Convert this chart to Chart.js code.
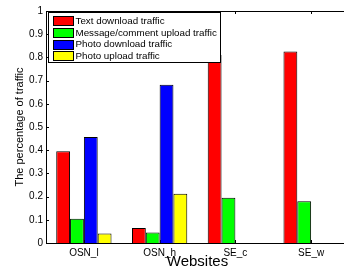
<!DOCTYPE html>
<html><head><meta charset="utf-8">
<script src="https://cdn.jsdelivr.net/npm/chart.js@4/dist/chart.umd.min.js"></script>
<style>
html,body{margin:0;padding:0;background:#fff;overflow:hidden;}
#wrap{width:344px;height:271px;overflow:hidden;position:relative;}
#box{width:352px;height:271px;position:absolute;left:0;top:0;}
</style></head>
<body>
<div id="wrap"><div id="box"><canvas id="c"></canvas></div></div>
<script>
const categories = ['OSN_l', 'OSN_h', 'SE_c', 'SE_w'];
const seriesNames = ['Text download traffic', 'Message/comment upload traffic', 'Photo download traffic', 'Photo upload traffic'];
const textDownload = [0.395, 0.065, 0.81, 0.825];
const messageUpload = [0.105, 0.045, 0.195, 0.18];
const photoDownload = [0.457, 0.682, 0, 0];
const photoUpload = [0.041, 0.212, 0, 0];
const seriesColors = ['#ff0000', '#00ff00', '#0000ff', '#ffff00'];
const yTickLabels = ['0','0.1','0.2','0.3','0.4','0.5','0.6','0.7','0.8','0.9','1'];

const FONT = 'Liberation Sans, Arial, Helvetica, sans-serif';
const seriesValues = [textDownload, messageUpload, photoDownload, photoUpload];

const matlabPlugin = {
  id: 'matlab',
  beforeDatasetsDraw(chart) {
    const ctx = chart.ctx, a = chart.chartArea;
    const xs = chart.scales.x, ys = chart.scales.y;
    ctx.save();
    ctx.strokeStyle = '#000';
    ctx.lineWidth = 1;
    ctx.beginPath();
    ys.ticks.forEach((t, i) => {
      const py = Math.round(ys.getPixelForTick(i)) + 0.5;
      ctx.moveTo(a.left, py); ctx.lineTo(a.left + 3, py);
    });
    xs.ticks.forEach((t, i) => {
      const px = Math.round(xs.getPixelForTick(i)) + 0.5;
      ctx.moveTo(px, a.bottom); ctx.lineTo(px, a.bottom - 3);
      ctx.moveTo(px, a.top); ctx.lineTo(px, a.top + 3);
    });
    ctx.stroke();
    ctx.restore();
  },
  afterDraw(chart) {
    const ctx = chart.ctx, a = chart.chartArea;
    ctx.save();
    ctx.strokeStyle = '#000';
    ctx.lineWidth = 1;
    ctx.beginPath();
    ctx.moveTo(a.left, Math.round(a.top) + 0.5);
    ctx.lineTo(a.right, Math.round(a.top) + 0.5);
    ctx.stroke();
    const lx = 48.5, ly = 12.5, lw = 172, lh = 50;
    ctx.fillStyle = '#fff';
    ctx.fillRect(lx, ly, lw, lh);
    ctx.strokeRect(lx, ly, lw, lh);
    ctx.font = '9.8px ' + FONT;
    ctx.textBaseline = 'middle';
    chart.data.datasets.forEach((ds, i) => {
      const cy = 20.5 + i * 11.8;
      const sy = Math.round(cy - 4.5) + 0.5;
      ctx.fillStyle = ds.backgroundColor;
      ctx.fillRect(53.5, sy, 20, 9);
      ctx.strokeStyle = '#000';
      ctx.strokeRect(53.5, sy, 20, 9);
      ctx.fillStyle = '#000';
      ctx.fillText(ds.label, 75.5, cy + 0.5);
    });
    ctx.restore();
  }
};

new Chart(document.getElementById('c'), {
  type: 'bar',
  data: {
    labels: categories,
    datasets: seriesNames.map((n, i) => ({
      label: n,
      data: seriesValues[i],
      backgroundColor: seriesColors[i],
      borderColor: '#000',
      borderWidth: 1,
      categoryPercentage: 0.73,
      barPercentage: 1.0
    }))
  },
  options: {
    responsive: true,
    maintainAspectRatio: false,
    animation: false,
    layout: { padding: { top: 11, right: 3, left: 0, bottom: 0 } },
    plugins: { legend: { display: false }, tooltip: { enabled: false } },
    scales: {
      x: {
        grid: { display: false, drawTicks: false, tickLength: 0 },
        border: { display: true, color: '#000', width: 1 },
        ticks: { color: '#000', font: { family: FONT, size: 10 }, padding: 4, maxRotation: 0 },
        title: { display: true, text: 'Websites', color: '#000', font: { family: FONT, size: 15 }, padding: { top: 0, bottom: 0 } },
        afterFit(s) { s.height = 28; }
      },
      y: {
        min: 0, max: 1,
        grid: { display: false, drawTicks: false, tickLength: 0 },
        border: { display: true, color: '#000', width: 1 },
        ticks: { stepSize: 0.1, color: '#000', font: { family: FONT, size: 10 }, padding: 3,
          callback: (v, i) => yTickLabels[i] },
        title: { display: true, text: 'The percentage of traffic', color: '#000', font: { family: FONT, size: 11 }, padding: { top: 13, bottom: 0 } },
        afterFit(s) { s.width = 46; }
      }
    }
  },
  plugins: [matlabPlugin]
});
</script>
</body></html>
